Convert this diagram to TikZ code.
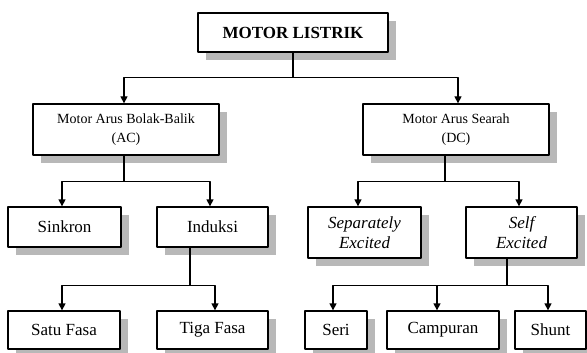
\documentclass[tikz,border=0pt]{standalone}
\usepackage{fontspec}
\setmainfont{Liberation Serif}
\usetikzlibrary{arrows.meta,shadows,calc}

\begin{document}
\begin{tikzpicture}[x=1pt,y=-1pt,line join=round,
  box/.style={draw,line width=1.3pt,fill=white,inner sep=0pt,align=center,
    drop shadow={shadow xshift=8pt,shadow yshift=-8pt,fill=black!28,opacity=1}},
  root/.style={box,font=\bfseries\fontsize{17}{20}\selectfont},
  mid/.style={box,font=\fontsize{14}{19}\selectfont},
  leaf/.style={box,font=\fontsize{17}{20}\selectfont},
  link/.style={line width=1.3pt},
  arr/.style={line width=1.3pt,-{Triangle[length=7pt,width=7pt]}}]
		\useasboundingbox (0,0) rectangle (587,353);
		\node[root,minimum width=190pt,minimum height=39pt] (motor) at (293,32.5) {MOTOR LISTRIK};
		\node[mid,minimum width=186pt,minimum height=51pt] (ac) at (126,129.5) {Motor Arus Bolak-Balik\\(AC)};
		\node[mid,minimum width=186pt,minimum height=51pt] (dc) at (456,129.5) {Motor Arus Searah\\(DC)};
		\node[leaf,minimum width=113pt,minimum height=40pt] (sinkron) at (64.5,227) {Sinkron};
		\node[leaf,minimum width=111pt,minimum height=40pt] (induksi) at (212.5,227) {Induksi};
		\node[leaf,minimum width=113pt,minimum height=51pt] (separately) at (364.5,232.5) {\itshape Separately\\\itshape Excited};
		\node[leaf,minimum width=111pt,minimum height=51pt] (self) at (521.5,232.5) {\itshape Self\\\itshape Excited};
		\foreach \n/\x/\w/\t in {satu/64/112/Satu Fasa,tiga/212.5/111/Tiga Fasa,seri/336/62/Seri,campuran/443/112/Campuran,shunt/550.5/71/Shunt}
		{\node[leaf,minimum width=\w pt,minimum height=38pt] (\n) at (\x,330) {\t};}
		% motor listrik
		\draw[link] (motor.south) -- ++(0,25) coordinate (j1);
		\draw[arr] (j1) -| ([xshift=-2pt]ac.north);
		\draw[arr] (j1) -| ([xshift=2pt]dc.north);
		% AC
		\draw[link] ([xshift=-2pt]ac.south) -- ++(0,26) coordinate (j2);
		\draw[arr] (j2) -| ([xshift=-2.5pt]sinkron.north);
		\draw[arr] (j2) -| ([xshift=-2.5pt]induksi.north);
		% DC
		\draw[link] ([xshift=-11pt]dc.south) -- ++(0,26) coordinate (j3);
		\draw[arr] (j3) -| ([xshift=-6.5pt]separately.north);
		\draw[arr] (j3) -| ([xshift=-2.5pt]self.north);
		% induksi
		\draw[link] ([xshift=-22.5pt]induksi.south) -- ++(0,38) coordinate (j4);
		\draw[arr] (j4) -| ([xshift=-2pt]satu.north);
		\draw[arr] (j4) -| ([xshift=2.5pt]tiga.north);
		% self excited
		\draw[link] ([xshift=-14.5pt]self.south) -- ++(0,27) coordinate (j5);
		\draw[arr] (j5) -| ([xshift=-3pt]seri.north);
		\draw[arr] (j5) -| ([xshift=-6pt]campuran.north);
		\draw[arr] (j5) -| ([xshift=-2.5pt]shunt.north);
\end{tikzpicture}
\end{document}
